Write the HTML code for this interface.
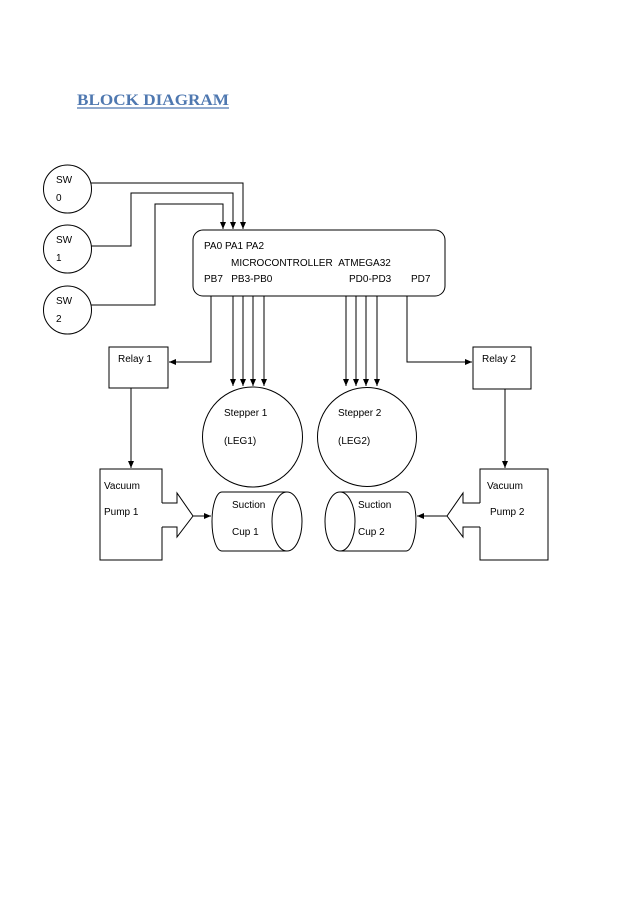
<!DOCTYPE html>
<html><head><meta charset="utf-8"><style>
html,body{margin:0;padding:0;background:#fff;}
svg{display:block;}
text{font-family:"Liberation Sans",sans-serif;font-size:10px;fill:#000;}
</style></head><body>
<svg width="638" height="903" viewBox="0 0 638 903" xmlns="http://www.w3.org/2000/svg">
<defs><marker id="a" markerWidth="8" markerHeight="8" refX="7" refY="4" orient="auto" markerUnits="userSpaceOnUse"><path d="M0,1 L7,4 L0,7 Z" fill="#000"/></marker></defs>
<text x="77" y="105" style="font-family:'Liberation Serif',serif;font-weight:bold;font-size:16px;fill:#4f78b0" textLength="152" lengthAdjust="spacingAndGlyphs">BLOCK DIAGRAM</text>
<line x1="77" y1="108" x2="229" y2="108" stroke="#4f78b0" stroke-width="1.2"/>
<g fill="none" stroke="#000" stroke-width="1">
<circle cx="67.5" cy="189" r="24"/>
<circle cx="67.5" cy="249" r="24"/>
<circle cx="67.5" cy="310" r="24"/>
<polyline points="91,183 243,183 243,229" marker-end="url(#a)"/>
<polyline points="91,246 131,246 131,193 233,193 233,229" marker-end="url(#a)"/>
<polyline points="91,305 155,305 155,204 223,204 223,229" marker-end="url(#a)"/>
<rect x="193" y="230" width="252" height="66" rx="10"/>
<polyline points="211,296 211,362 169,362" marker-end="url(#a)"/>
<rect x="109" y="347" width="59" height="41"/>
<polyline points="407,296 407,362 472,362" marker-end="url(#a)"/>
<rect x="473" y="347" width="58" height="42"/>
<line x1="233" y1="296" x2="233" y2="386" marker-end="url(#a)"/>
<line x1="243" y1="296" x2="243" y2="386" marker-end="url(#a)"/>
<line x1="253" y1="296" x2="253" y2="386" marker-end="url(#a)"/>
<line x1="264" y1="296" x2="264" y2="386" marker-end="url(#a)"/>
<line x1="346" y1="296" x2="346" y2="386" marker-end="url(#a)"/>
<line x1="356" y1="296" x2="356" y2="386" marker-end="url(#a)"/>
<line x1="366" y1="296" x2="366" y2="386" marker-end="url(#a)"/>
<line x1="377" y1="296" x2="377" y2="386" marker-end="url(#a)"/>
<circle cx="252.5" cy="437" r="50"/>
<circle cx="367" cy="437" r="49.5"/>
<line x1="131" y1="388" x2="131" y2="468" marker-end="url(#a)"/>
<line x1="505" y1="389" x2="505" y2="468" marker-end="url(#a)"/>
<polyline points="162,503 177,503 177,493 193,516 177,537 177,527 162,527"/>
<path d="M162,503 L162,469 L100,469 L100,560 L162,560 L162,527"/>
<polyline points="480,503 463,503 463,493 447,516 463,537 463,527 480,527"/>
<path d="M480,503 L480,469 L548,469 L548,560 L480,560 L480,527"/>
<line x1="193" y1="516" x2="211" y2="516" marker-end="url(#a)"/>
<line x1="447" y1="516" x2="417" y2="516" marker-end="url(#a)"/>
<path d="M287,492 L222,492 A10,29.5 0 0 0 222,551 L287,551"/>
<ellipse cx="287" cy="521.5" rx="15" ry="29.5"/>
<path d="M340,492 L406,492 A10,29.5 0 0 1 406,551 L340,551"/>
<ellipse cx="340" cy="521.5" rx="15" ry="29.5"/>
</g>
<text x="56" y="183">SW</text><text x="56" y="201">0</text>
<text x="56" y="243">SW</text><text x="56" y="261">1</text>
<text x="56" y="304">SW</text><text x="56" y="322">2</text>
<text x="204" y="249">PA0 PA1 PA2</text>
<text x="231" y="266">MICROCONTROLLER&#160;&#160;ATMEGA32</text>
<text x="204" y="282">PB7&#160;&#160;&#160;PB3-PB0</text>
<text x="349" y="282">PD0-PD3</text>
<text x="411" y="282">PD7</text>
<text x="118" y="362">Relay 1</text>
<text x="482" y="362">Relay 2</text>
<text x="224" y="416">Stepper 1</text>
<text x="224" y="444">(LEG1)</text>
<text x="338" y="416">Stepper 2</text>
<text x="338" y="444">(LEG2)</text>
<text x="104" y="489">Vacuum</text>
<text x="104" y="515">Pump 1</text>
<text x="487" y="489">Vacuum</text>
<text x="490" y="515">Pump 2</text>
<text x="232" y="508">Suction</text>
<text x="232" y="535">Cup 1</text>
<text x="358" y="508">Suction</text>
<text x="358" y="535">Cup 2</text>
</svg>
</body></html>
